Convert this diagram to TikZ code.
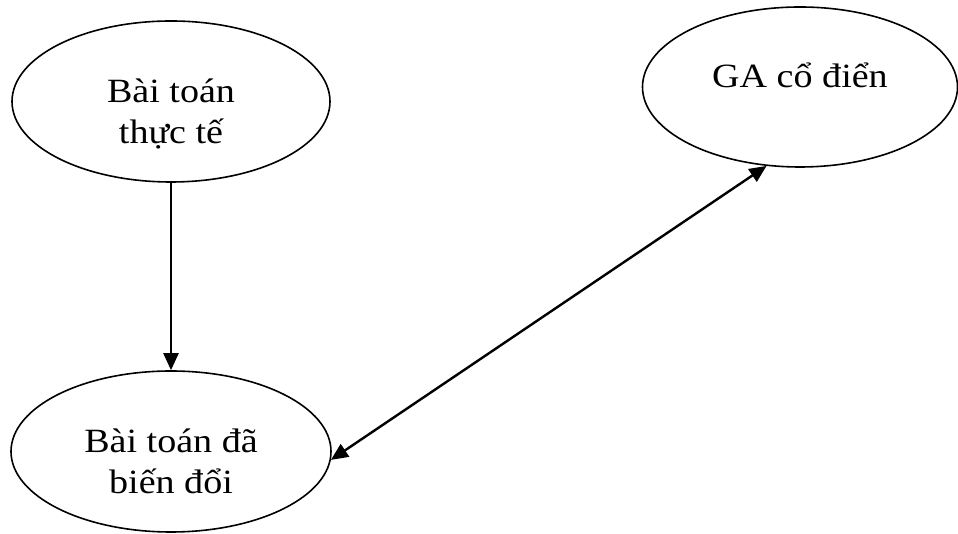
\documentclass[tikz,border=0pt]{standalone}
\usepackage{fontspec}
\setmainfont{Liberation Serif}[FakeStretch=1.12]
\usetikzlibrary{positioning, arrows.meta, shapes.geometric}

\begin{document}
\begin{tikzpicture}[
  x=1pt, y=1pt,
  oval/.style={ellipse, draw=black, line width=1.6pt, inner sep=0pt},
  txt/.style={align=center, inner sep=0pt, anchor=base,
              font=\fontsize{34}{41}\selectfont},
  arr/.style={-{Triangle[length=17pt, width=15pt]}, line width=2.4pt},
  dblarr/.style={{Triangle[length=17pt, width=15pt]}-{Triangle[length=17pt, width=15pt]}, line width=2.4pt}
]
\useasboundingbox (0,0) rectangle (958,534);

\node[oval, minimum width=318pt, minimum height=161pt] (realprob)  at (171,432.5) {};
\node[oval, minimum width=320pt, minimum height=161pt] (transprob) at (171,82.5)  {};
\node[oval, minimum width=315pt, minimum height=160pt] (classicga) at (800,447)   {};

% base sits on the last line, so two-line texts go one line lower
\node[txt] (realprobtext)  at ([yshift=-42pt]realprob.center)  {Bài toán\\thực tế};
\node[txt] (transprobtext) at ([yshift=-42pt]transprob.center) {Bài toán đã\\biến đổi};
\node[txt] (classicgatext) at ([yshift=-1pt]classicga.center)  {GA cổ điển};

\draw[arr] (realprob.south) -- (transprob.north);
\draw[dblarr] (transprob.-3) -- (classicga.247);
\end{tikzpicture}
\end{document}
